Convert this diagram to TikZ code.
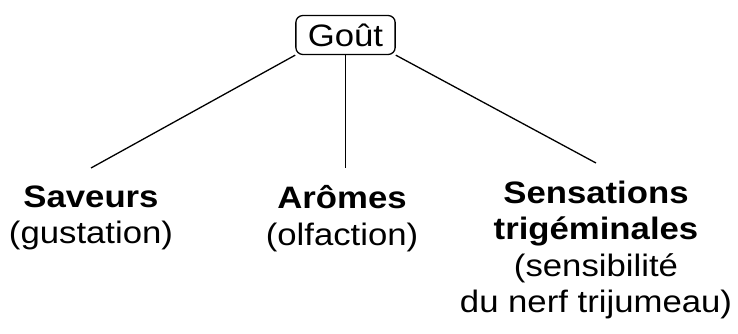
\documentclass[tikz,border=0pt]{standalone}
\usepackage{fontspec}
\setmainfont{Liberation Sans}[FakeStretch=1.12]
\begin{document}
\begin{tikzpicture}[x=1pt, y=-1pt, line width=1.3pt,
    every node/.style={font=\fontsize{31}{36.5}\selectfont},
    branch/.style={align=center, anchor=north, inner xsep=0pt, inner ysep=17pt}]
    \useasboundingbox (0, 0) rectangle (738, 334);

    \node[draw, rounded corners=7pt, inner xsep=12pt, inner ysep=0pt,
          minimum height=39pt] (gout) at (345.5, 35) {Goût};

    \node[branch] (saveurs) at (91, 168) {\textbf{Saveurs}\\(gustation)};
    \node[branch] (aromes) at (342, 168) {\textbf{Arômes}\\(olfaction)};
    \node[branch] (trigem) at (596, 163)
        {\textbf{Sensations}\\\textbf{trigéminales}\\(sensibilité\\du nerf trijumeau)};

    \draw (gout.south west) -- (saveurs.north);
    \draw (gout.south) -- (gout.south |- aromes.north);
    \draw (gout.south east) -- (trigem.north);
\end{tikzpicture}
\end{document}
